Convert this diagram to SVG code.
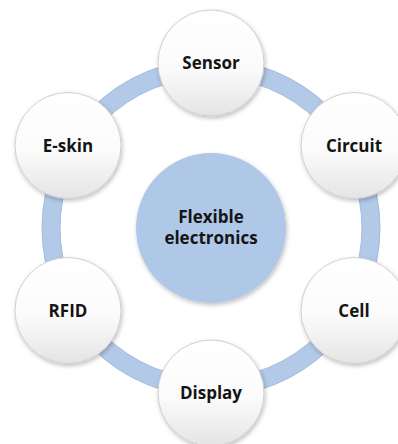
<svg xmlns="http://www.w3.org/2000/svg" width="398" height="444" viewBox="0 0 398 444">
  <style>
    .node { fill: url(#nodeGrad); stroke: #cfcfcf; stroke-width: 1; filter: url(#shadow); }
    .lbl { font-family: "Open Sans", "Liberation Sans", sans-serif; font-weight: bold; font-size: 17px; fill: #141414; text-anchor: middle; }
    .ring { fill: none; stroke: #b3c9e8; stroke-width: 18; }
    .ringEdge { fill: none; stroke: #a3bbdf; stroke-width: 1; }
  </style>
  <defs>
    <linearGradient id="nodeGrad" x1="0" y1="0" x2="0" y2="1">
      <stop offset="0" stop-color="#ffffff"/>
      <stop offset="0.55" stop-color="#fbfbfb"/>
      <stop offset="1" stop-color="#e4e4e4"/>
    </linearGradient>
    <filter id="shadow" x="-20%" y="-20%" width="140%" height="140%">
      <feDropShadow dx="1" dy="2" stdDeviation="2" flood-color="#000000" flood-opacity="0.25"/>
    </filter>
  </defs>
  <rect width="398" height="444" fill="#ffffff"/>
  <g id="connectors">
    <circle class="ring" cx="211" cy="228" r="160"/>
    <circle class="ringEdge" cx="211" cy="228" r="169"/>
    <circle class="ringEdge" cx="211" cy="228" r="151"/>
  </g>
  <g id="center">
    <circle cx="211" cy="228" r="75" fill="#b0c8e8" filter="url(#shadow)"/>
    <text class="lbl" x="211" y="223">Flexible</text>
    <text class="lbl" x="211" y="244">electronics</text>
  </g>
  <g id="sensor">
    <circle class="node" cx="211" cy="63" r="53"/>
    <text class="lbl" x="211" y="69">Sensor</text>
  </g>
  <g id="circuit">
    <circle class="node" cx="354" cy="145.5" r="53"/>
    <text class="lbl" x="354" y="151.5">Circuit</text>
  </g>
  <g id="cell">
    <circle class="node" cx="354" cy="310.5" r="53"/>
    <text class="lbl" x="354" y="316.5">Cell</text>
  </g>
  <g id="display">
    <circle class="node" cx="211" cy="393" r="53"/>
    <text class="lbl" x="211" y="399">Display</text>
  </g>
  <g id="rfid">
    <circle class="node" cx="68" cy="310.5" r="53"/>
    <text class="lbl" x="68" y="316.5">RFID</text>
  </g>
  <g id="eskin">
    <circle class="node" cx="68" cy="145.5" r="53"/>
    <text class="lbl" x="68" y="151.5">E-skin</text>
  </g>
</svg>
